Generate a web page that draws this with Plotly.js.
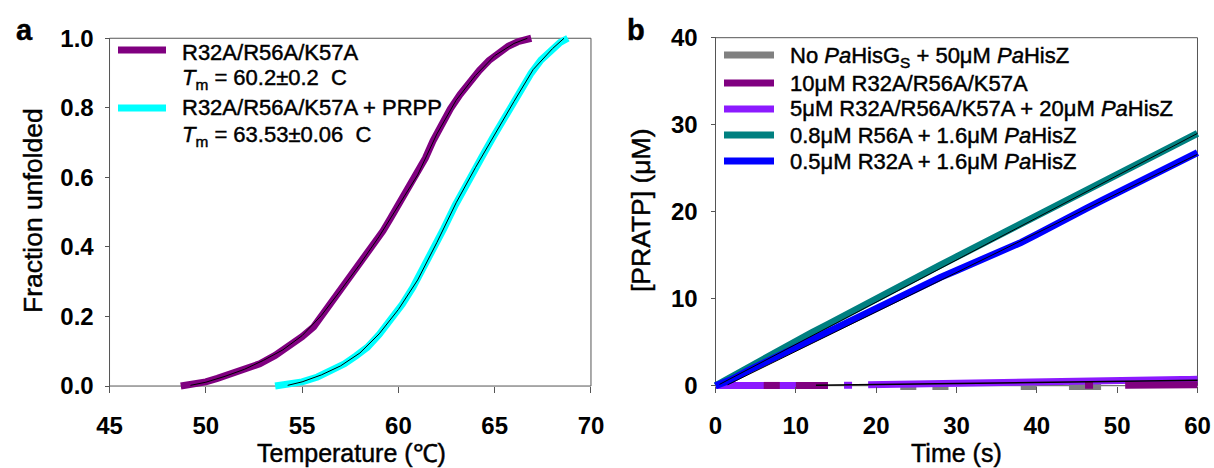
<!DOCTYPE html>
<html>
<head>
<meta charset="utf-8">
<script src="https://cdn.plot.ly/plotly-3.0.1.min.js"></script>
<style>
html,body{margin:0;padding:0;background:#fff;}
#chart{width:1214px;height:468px;}
#chart .annotation-text{stroke:#000;stroke-width:0.45px;paint-order:stroke;}
</style>
</head>
<body>
<div id="chart"></div>
<script>
// ---------- Panel a: thermal unfolding ----------
const tempPurple = [48.7, 49.2, 50.0, 50.6, 51.2, 52.0, 52.8, 53.6, 54.4, 55.0, 55.6, 56.0, 56.4, 57.0, 57.6, 58.0, 58.4, 58.8, 59.2, 59.6, 60.0, 60.5, 61.0, 61.4, 61.8, 62.3, 62.7, 63.2, 63.7, 64.2, 64.7, 65.2, 65.7, 66.2, 66.6, 66.9];
const fracPurple = [0.0, 0.003, 0.012, 0.022, 0.033, 0.047, 0.064, 0.088, 0.117, 0.142, 0.170, 0.200, 0.235, 0.278, 0.320, 0.350, 0.380, 0.412, 0.446, 0.483, 0.522, 0.565, 0.610, 0.655, 0.705, 0.757, 0.797, 0.838, 0.874, 0.907, 0.936, 0.959, 0.977, 0.990, 0.997, 1.0];
const tempPurpleFit = [49.2, 50.0, 51.0, 52.0, 53.0, 54.0, 55.0, 56.0, 57.0, 58.0, 59.0, 60.0, 61.0, 62.0, 63.0, 64.0, 65.0, 66.0, 66.7];
const fracPurpleFit = [0.002, 0.011, 0.028, 0.048, 0.074, 0.104, 0.145, 0.203, 0.275, 0.350, 0.430, 0.518, 0.607, 0.725, 0.822, 0.893, 0.950, 0.985, 1.0];

const tempCyan = [53.6, 54.0, 54.4, 55.0, 55.8, 56.5, 57.2, 57.8, 58.4, 59.0, 59.6, 60.2, 60.75, 61.2, 61.55, 61.95, 62.35, 62.95, 63.45, 63.94, 64.45, 64.93, 65.45, 65.93, 66.4, 66.9, 67.4, 67.9, 68.4, 68.8];
const fracCyan = [0.0, 0.002, 0.004, 0.012, 0.026, 0.044, 0.064, 0.087, 0.112, 0.148, 0.189, 0.235, 0.283, 0.328, 0.368, 0.410, 0.452, 0.520, 0.573, 0.622, 0.670, 0.717, 0.765, 0.813, 0.858, 0.900, 0.937, 0.966, 0.988, 1.0];
const tempCyanFit = [54.25, 55.0, 56.0, 57.0, 58.0, 59.0, 60.0, 61.0, 62.0, 63.0, 64.0, 65.0, 66.0, 67.0, 68.0, 68.6];
const fracCyanFit = [0.002, 0.012, 0.032, 0.058, 0.095, 0.150, 0.220, 0.305, 0.413, 0.527, 0.628, 0.724, 0.818, 0.910, 0.970, 1.0];

// ---------- Panel b: PRATP production ----------
const timeB = [0, 2, 4, 6, 8, 10, 12, 14, 16, 18, 20, 22, 24, 26, 28, 30, 32, 34, 36, 38, 40, 42, 44, 46, 48, 50, 52, 54, 56, 58, 60];
const pratpR56A = [0, 1.05, 2.07, 3.1, 4.1, 5.1, 6.1, 7.05, 8.05, 9.0, 10.0, 10.95, 11.9, 12.9, 13.85, 14.8, 15.75, 16.7, 17.7, 18.65, 19.6, 20.55, 21.5, 22.45, 23.4, 24.3, 25.25, 26.2, 27.1, 28.05, 29.0];
const pratpR32A = [0, 0.7, 1.7, 2.6, 3.55, 4.5, 5.4, 6.3, 7.2, 8.05, 8.9, 9.8, 10.65, 11.55, 12.45, 13.25, 14.0, 14.75, 15.55, 16.45, 17.4, 18.3, 19.3, 20.3, 21.25, 22.2, 23.15, 24.05, 25.0, 25.9, 26.8];
const timeR56AFit = [0.5, 60];
const pratpR56AFit = [0.15, 29.0];
const timeR32AFit = [1.5, 60];
const pratpR32AFit = [0.1, 26.6];

const timeLow = [0,1,2,3,4,5,6,7,8,9,10,11,12,13,14,15,16,17,18,19,20,21,22,23,24,25,26,27,28,29,30,31,32,33,34,35,36,37,38,39,40,41,42,43,44,45,46,47,48,49,50,51,52,53,54,55,56,57,58,59,60];
const pratpNoHisG = [null,null,null,null,null,null,null,null,null,null,null,null,null,null,null,null,null,null,null,null,null,null,null,-0.12,-0.12,-0.12,null,-0.12,-0.12,-0.12,null,null,null,null,null,null,null,null,-0.1,-0.1,-0.1,null,null,null,-0.1,-0.1,-0.1,-0.1,-0.1,null,null,null,null,null,null,null,null,null,null,null,null];
const pratpTriple = [null,null,null,null,null,null,0.03,0.03,0.03,null,0.03,0.03,0.03,0.03,0.03,null,null,null,null,null,null,null,null,null,null,null,null,null,null,null,null,null,null,null,null,null,null,null,null,null,null,null,null,null,null,null,0.05,0.05,null,null,null,0.05,0.06,0.06,0.07,0.07,0.08,0.08,0.09,0.09,0.1];
const pratpTripleHisZ = [0.02,0.02,0.02,0.02,0.02,0.02,0.02,0.02,0.02,0.02,0.02,0.02,0.02,0.02,0.02,null,0.05,0.05,null,0.1,0.11,0.12,0.14,0.15,0.16,0.18,0.2,0.21,0.22,0.24,0.25,0.27,0.28,0.29,0.31,0.32,0.34,0.35,0.37,0.38,0.4,0.41,0.43,0.45,0.46,0.48,0.5,0.51,0.53,0.54,0.56,0.57,0.59,0.61,0.62,0.64,0.66,0.68,0.7,0.72,0.74];
const timeLowFit = [12.5, 60];
const pratpLowFit = [0.05, 0.62];

const namesA = ['R32A/R56A/K57A', 'R32A/R56A/K57A + PRPP'];
const tmA = ['<i>T</i><sub>m</sub> = 60.2\u00b10.2  C', '<i>T</i><sub>m</sub> = 63.53\u00b10.06  C'];
const namesB = ['No <i>Pa</i>HisG<sub>S</sub> + 50\u03bcM <i>Pa</i>HisZ', '10\u03bcM R32A/R56A/K57A', '5\u03bcM R32A/R56A/K57A + 20\u03bcM <i>Pa</i>HisZ', '0.8\u03bcM R56A + 1.6\u03bcM <i>Pa</i>HisZ', '0.5\u03bcM R32A + 1.6\u03bcM <i>Pa</i>HisZ'];
const colorsA = ['#800080', '#00FFFF'];
const colorsB = ['#808080', '#800080', '#8C1AFF', '#008080', '#0000FF'];
const ticksA_x = [45, 50, 55, 60, 65, 70];
const ticksA_y = [0, 0.2, 0.4, 0.6, 0.8, 1.0];
const ticksB_x = [0, 10, 20, 30, 40, 50, 60];
const ticksB_y = [0, 10, 20, 30, 40];

const FONT = 'Liberation Sans, Arial, sans-serif';
const W = 7;
function line(x, y, color, width, name, xa, ya) {
  return {x: x, y: y, type: 'scatter', mode: 'lines', name: name || '', xaxis: xa, yaxis: ya,
    line: {color: color, width: width}, showlegend: false, connectgaps: false, hoverinfo: 'skip'};
}

const traces = [
  line(tempPurple, fracPurple, colorsA[0], W, namesA[0], 'x', 'y'),
  line(tempCyan, fracCyan, colorsA[1], W, namesA[1], 'x', 'y'),
  line(tempPurpleFit, fracPurpleFit, '#000000', 1, 'fit', 'x', 'y'),
  line(tempCyanFit, fracCyanFit, '#000000', 1, 'fit', 'x', 'y'),

  line(timeLow, pratpNoHisG, colorsB[0], W, namesB[0], 'x2', 'y2'),
  line(timeLow, pratpTripleHisZ, colorsB[2], W, namesB[2], 'x2', 'y2'),
  line(timeLow, pratpTriple, colorsB[1], W, namesB[1], 'x2', 'y2'),
  line(timeB, pratpR56A, colorsB[3], W, namesB[3], 'x2', 'y2'),
  line(timeB, pratpR32A, colorsB[4], W, namesB[4], 'x2', 'y2'),
  line(timeR56AFit, pratpR56AFit, '#000000', 1, 'fit', 'x2', 'y2'),
  line(timeR32AFit, pratpR32AFit, '#000000', 1, 'fit', 'x2', 'y2'),
  line(timeLowFit, pratpLowFit, '#000000', 1.5, 'fit', 'x2', 'y2')
];

const tickFont = {family: FONT, size: 24, color: '#000', weight: 'bold'};
const titleFontX = {family: FONT, size: 25, color: '#000'};
const titleFontY = {family: FONT, size: 26.5, color: '#000'};
const legSize = 22;
const axCommon = {showgrid: false, zeroline: false, showline: false, ticks: 'outside', ticklen: 6,
  tickcolor: '#555', tickwidth: 1, tickfont: tickFont, fixedrange: true};

const H = 468, WD = 1214;
const px = v => v / WD, py = v => (H - v) / H;

// frames and manual legends (paper coordinates for legend keys)
const shapes = [
  {type: 'rect', xref: 'x', yref: 'y', x0: 45, x1: 70, y0: 0, y1: 1, line: {color: '#555', width: 1}, layer: 'below'},
  {type: 'rect', xref: 'x2', yref: 'y2', x0: 0, x1: 60, y0: 0, y1: 40, line: {color: '#555', width: 1}, layer: 'below'}
];
const annotations = [];
const legAy = [50, 108];
const legAtext = [[52.5, 77.5], [107.5, 133.5]];
for (let i = 0; i < namesA.length; i++) {
  shapes.push({type: 'line', xref: 'paper', yref: 'paper', x0: px(118), x1: px(166), y0: py(legAy[i]), y1: py(legAy[i]),
    line: {color: colorsA[i], width: W}});
  annotations.push({text: namesA[i], xref: 'paper', yref: 'paper', x: px(180), y: py(legAtext[i][0]), xanchor: 'left', yanchor: 'middle',
    showarrow: false, font: {family: FONT, size: legSize, color: '#000'}});
  annotations.push({text: tmA[i], xref: 'paper', yref: 'paper', x: px(180), y: py(legAtext[i][1] + 2), xanchor: 'left', yanchor: 'middle',
    showarrow: false, font: {family: FONT, size: legSize, color: '#000'}});
}
const legBy = [55, 83, 109, 135, 161];
for (let i = 0; i < namesB.length; i++) {
  shapes.push({type: 'line', xref: 'paper', yref: 'paper', x0: px(724), x1: px(774), y0: py(legBy[i]), y1: py(legBy[i]),
    line: {color: colorsB[i], width: W}});
  annotations.push({text: namesB[i], xref: 'paper', yref: 'paper', x: px(788), y: py(legBy[i] + (i === 0 ? 2 : 0)), xanchor: 'left', yanchor: 'middle',
    showarrow: false, font: {family: FONT, size: legSize, color: '#000'}});
}
annotations.push(
  {text: '<b>a</b>', xref: 'paper', yref: 'paper', x: px(25), y: py(30), xanchor: 'center', yanchor: 'middle', showarrow: false, font: {family: FONT, size: 29}},
  {text: '<b>b</b>', xref: 'paper', yref: 'paper', x: px(636), y: py(30), xanchor: 'center', yanchor: 'middle', showarrow: false, font: {family: FONT, size: 29}},
  {text: 'Fraction unfolded', xref: 'paper', yref: 'paper', x: px(33), y: py(211), xanchor: 'center', yanchor: 'middle', textangle: -90, showarrow: false, font: titleFontY},
  {text: 'Temperature (\u2103)', xref: 'paper', yref: 'paper', x: px(351), y: py(453), xanchor: 'center', yanchor: 'middle', showarrow: false, font: titleFontX},
  {text: '[PRATP] (\u03bcM)', xref: 'paper', yref: 'paper', x: px(641), y: py(211), xanchor: 'center', yanchor: 'middle', textangle: -90, showarrow: false, font: titleFontY},
  {text: 'Time (s)', xref: 'paper', yref: 'paper', x: px(956), y: py(453), xanchor: 'center', yanchor: 'middle', showarrow: false, font: titleFontX}
);

const layout = {
  width: WD, height: H, margin: {l: 0, r: 0, t: 0, b: 0}, paper_bgcolor: '#fff', plot_bgcolor: 'rgba(0,0,0,0)',
  font: {family: FONT, color: '#000'}, showlegend: false,
  xaxis: Object.assign({}, axCommon, {domain: [px(107.6), px(592.9)], range: [44.9, 70.1], tickvals: ticksA_x,
    anchor: 'free', position: py(386), ticklabelstandoff: 12}),
  yaxis: Object.assign({}, axCommon, {domain: [py(393), py(31.3)], range: [-0.02, 1.02], tickvals: ticksA_y,
    ticktext: ticksA_y.map(v => v.toFixed(1)), anchor: 'free', position: px(109.5), ticklen: 5, ticklabelstandoff: 6}),
  xaxis2: Object.assign({}, axCommon, {domain: [px(713.1), px(1199.9)], range: [-0.3, 60.3], tickvals: ticksB_x,
    anchor: 'free', position: py(385.7), ticklabelstandoff: 12}),
  yaxis2: Object.assign({}, axCommon, {domain: [py(390.05), py(33.35)], range: [-0.5, 40.5], tickvals: ticksB_y,
    anchor: 'free', position: px(715.5), ticklen: 5, ticklabelstandoff: 8}),
  shapes: shapes,
  annotations: annotations
};

Plotly.newPlot('chart', traces, layout, {displayModeBar: false, staticPlot: true});
</script>
</body>
</html>
